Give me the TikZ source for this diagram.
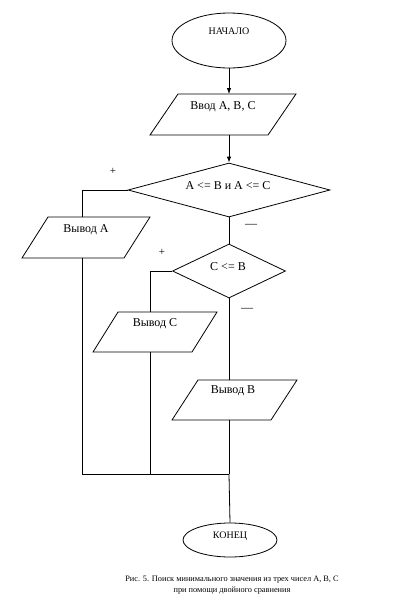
\documentclass[tikz,border=0pt]{standalone}
\usepackage{fontspec}
\setmainfont{Liberation Serif}
\usetikzlibrary{shapes.geometric,arrows.meta,calc}
\newcommand{\ioshape}[2]{\draw[line] (#1.south west) -- ($(#1.north west)+(#2,0)$) -- (#1.north east) -- ($(#1.south east)-(#2,0)$) -- cycle;}
\begin{document}
\begin{tikzpicture}[x=1pt,y=-1pt,
  line/.style={draw=black,line width=0.8pt},
  arr/.style={line,-{Latex[length=6pt,width=4.5pt]}},
  term/.style={ellipse,draw,line width=0.8pt,inner sep=0pt},
  iobox/.style={rectangle,inner sep=0pt,outer sep=0pt},
  cond/.style={diamond,draw,line width=0.8pt,inner sep=0pt},
  txt/.style={inner sep=0pt,font=\fontsize{12}{14}\selectfont},
  small/.style={inner sep=0pt,font=\fontsize{10}{12}\selectfont},
  captxt/.style={inner sep=0pt,font=\fontsize{8.3}{11}\selectfont},
  sign/.style={inner sep=0pt,font=\fontsize{11}{12}\selectfont}]
\useasboundingbox (0,0) rectangle (403,606);
% shapes
\node[term,minimum width=114pt,minimum height=55pt] (start) at (229,40.5) {};
\node[iobox,minimum width=146pt,minimum height=41pt] (in) at (223,114.5) {};
\node[cond,minimum width=202pt,minimum height=54pt] (d1) at (229,190) {};
\node[iobox,minimum width=128pt,minimum height=41pt] (outA) at (86,237.5) {};
\node[cond,minimum width=113pt,minimum height=54pt] (d2) at (229,271) {};
\node[iobox,minimum width=124pt,minimum height=40pt] (outC) at (155,332) {};
\node[iobox,minimum width=125pt,minimum height=40pt] (outB) at (234.5,400) {};
\node[term,minimum width=94pt,minimum height=34pt] (end) at (230,540) {};
\ioshape{in}{28}
\ioshape{outA}{26}
\ioshape{outC}{25}
\ioshape{outB}{26}
% texts
\node[small] (tstart) at (229,31) {НАЧАЛО};
\node[txt] (tin) at (223,107) {Ввод А, В, С};
\node[txt] (td1) at (228,186) {А <= В и А <= С};
\node[txt] (toutA) at (86,230) {Вывод А};
\node[txt] (td2) at (228,267) {С <= В};
\node[txt] (toutC) at (155,324) {Вывод С};
\node[txt] (toutB) at (233,391) {Вывод В};
\node[small] (tend) at (230,536) {КОНЕЦ};
\node[sign] (p1) at (113,171) {+};
\node[sign] (p2) at (162,252) {+};
\node[txt] (m1) at (251,226) {—};
\node[txt] (m2) at (247,310) {—};
\node[captxt,align=center] (cap) at (232,585.5) {Рис. 5. Поиск минимального значения из трех чисел А, В, С\\при помощи двойного сравнения};
% columns
\coordinate (colA) at (82,0);
\coordinate (colC) at (150,0);
\coordinate (join) at (229,474);
% connectors
\draw[arr] (start.south) -- (start.south |- in.north);
\draw[arr] (start.south |- in.south) -- (d1.north);
\draw[line] (d1.west) -| (colA |- outA.north);
\draw[line] (colA |- outA.south) |- (join);
\draw[line] (d1.south) -- (d2.north);
\draw[line] (d2.west) -| (colC |- outC.north);
\draw[line] (colC |- outC.south) -- (colC |- join);
\draw[line] (d2.south) -- (d2.south |- outB.north);
\draw[line] (d2.south |- outB.south) -- (join);
\draw[line] (join) -- (end.north);
\end{tikzpicture}
\end{document}
